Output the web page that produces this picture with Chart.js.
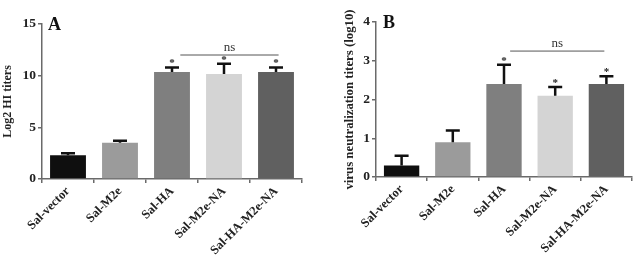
<!DOCTYPE html>
<html>
<head>
<meta charset="utf-8">
<script src="https://cdn.jsdelivr.net/npm/chart.js@4"></script>
<style>
  html, body { margin: 0; padding: 0; background: #fff; }
  .row { display: flex; width: 639px; height: 259px; }
  canvas { display: block; }
</style>
</head>
<body>
<div class="row">
  <canvas id="chartA" width="320" height="259"></canvas>
  <canvas id="chartB" width="319" height="259"></canvas>
</div>
<script>
// groups shared by both panels
const groups = ["Sal-vector", "Sal-M2e", "Sal-HA", "Sal-M2e-NA", "Sal-HA-M2e-NA"];
const barColors = ["#0f0f0f", "#9b9b9b", "#7f7f7f", "#d4d4d4", "#606060"];

// panel A: HI titers (log2)
const hiMeans = [2.3, 3.5, 10.35, 10.15, 10.35];
const hiErrors = [0.2, 0.2, 0.45, 1.0, 0.45];
const hiStars = [false, false, true, true, true];
const hiNs = { from: 2.16, to: 4.05, value: 12 };

// panel B: virus neutralization titers (log10)
const vnMeans = [0.3, 0.9, 2.4, 2.1, 2.4];
const vnErrors = [0.25, 0.3, 0.5, 0.22, 0.2];
const vnStars = [false, false, true, true, true];
const vnNs = { from: 2.12, to: 3.96, value: 3.25 };

const SERIF = "'Liberation Serif', 'Times New Roman', serif";
const AXIS_COLOR = "#6a6a6a";

// error bars (upper only), stars, ns bracket, panel letter
const annotatePlugin = {
  id: "annotate",
  afterDatasetsDraw(chart) {
    const o = chart.options.plugins.annotate;
    const { ctx, chartArea } = chart;
    const xScale = chart.scales.x;
    const yScale = chart.scales.y;
    const meta = chart.getDatasetMeta(0);

    ctx.save();
    meta.data.forEach((bar, i) => {
      const top = yScale.getPixelForValue(o.means[i] + o.errors[i]);
      ctx.strokeStyle = "#111";
      ctx.lineWidth = 2.5;
      ctx.beginPath();
      ctx.moveTo(bar.x, bar.y);
      ctx.lineTo(bar.x, top);
      ctx.moveTo(bar.x - 7, top);
      ctx.lineTo(bar.x + 7, top);
      ctx.stroke();

      if (o.stars[i]) {
        ctx.fillStyle = "#222";
        ctx.font = "bold 11px " + SERIF;
        ctx.textAlign = "center";
        ctx.textBaseline = "alphabetic";
        ctx.fillText("*", bar.x, top - 1);
      }
    });

    // ns line
    const nsY = yScale.getPixelForValue(o.ns.value);
    const x1 = xScale.getPixelForValue(o.ns.from);
    const x2 = xScale.getPixelForValue(o.ns.to);
    ctx.strokeStyle = "#555";
    ctx.lineWidth = 1;
    ctx.beginPath();
    ctx.moveTo(x1, nsY);
    ctx.lineTo(x2, nsY);
    ctx.stroke();
    ctx.fillStyle = "#333";
    ctx.font = "13px " + SERIF;
    ctx.textAlign = "center";
    ctx.textBaseline = "alphabetic";
    ctx.fillText("ns", (x1 + x2) / 2, nsY - 4);

    // panel letter
    ctx.fillStyle = "#111";
    ctx.font = "bold 18px " + SERIF;
    ctx.textAlign = "left";
    ctx.fillText(o.letter, chartArea.left + o.letterDx, chartArea.top + 6);
    ctx.restore();
  }
};

function makeChart(id, cfg) {
  const ctx = document.getElementById(id).getContext("2d");
  return new Chart(ctx, {
    type: "bar",
    data: {
      labels: groups,
      datasets: [{
        data: cfg.means,
        backgroundColor: barColors,
        borderWidth: 0,
        barPercentage: 0.69,
        categoryPercentage: 1
      }]
    },
    options: {
      responsive: false,
      animation: false,
      layout: { padding: { top: cfg.padTop, right: cfg.padRight, left: 0, bottom: 0 } },
      plugins: {
        legend: { display: false },
        tooltip: { enabled: false },
        annotate: {
          means: cfg.means, errors: cfg.errors, stars: cfg.stars,
          ns: cfg.ns, letter: cfg.letter, letterDx: cfg.letterDx
        }
      },
      scales: {
        x: {
          offset: true,
          grid: { display: true, drawOnChartArea: false, drawTicks: true, tickLength: 4, color: AXIS_COLOR, lineWidth: 1.5 },
          border: { display: true, color: AXIS_COLOR, width: 1.5 },
          ticks: {
            minRotation: 45, maxRotation: 45, padding: 1, color: "#222",
            font: { family: SERIF, size: 12.5, weight: "bold" }
          },
          afterFit: s => { s.height = cfg.xHeight; }
        },
        y: {
          min: 0, max: cfg.yMax,
          grid: { display: true, drawOnChartArea: false, drawTicks: true, tickLength: 4, color: AXIS_COLOR, lineWidth: 1.5 },
          border: { display: true, color: AXIS_COLOR, width: 1.5 },
          ticks: {
            stepSize: cfg.yStep, padding: 2, color: "#222",
            font: { family: SERIF, size: 13.5, weight: "bold" }
          },
          title: {
            display: true, text: cfg.yTitle, color: "#222",
            padding: { top: cfg.titlePad, bottom: 0 },
            font: { family: SERIF, size: cfg.titleSize, weight: "bold" }
          },
          afterFit: s => { s.width = cfg.yWidth; }
        }
      }
    },
    plugins: [annotatePlugin]
  });
}

makeChart("chartA", {
  means: hiMeans, errors: hiErrors, stars: hiStars, ns: hiNs,
  letter: "A", letterDx: 6, yMax: 15, yStep: 5, yTitle: "Log2 HI titers", titleSize: 12,
  padTop: 24, padRight: 18, xHeight: 80, yWidth: 42, titlePad: 1
});

makeChart("chartB", {
  means: vnMeans, errors: vnErrors, stars: vnStars, ns: vnNs,
  letter: "B", letterDx: 7, yMax: 4, yStep: 1, yTitle: "virus neutralization titers (log10)", titleSize: 12.8,
  padTop: 22, padRight: 7, xHeight: 82, yWidth: 56, titlePad: 22
});
</script>
</body>
</html>
